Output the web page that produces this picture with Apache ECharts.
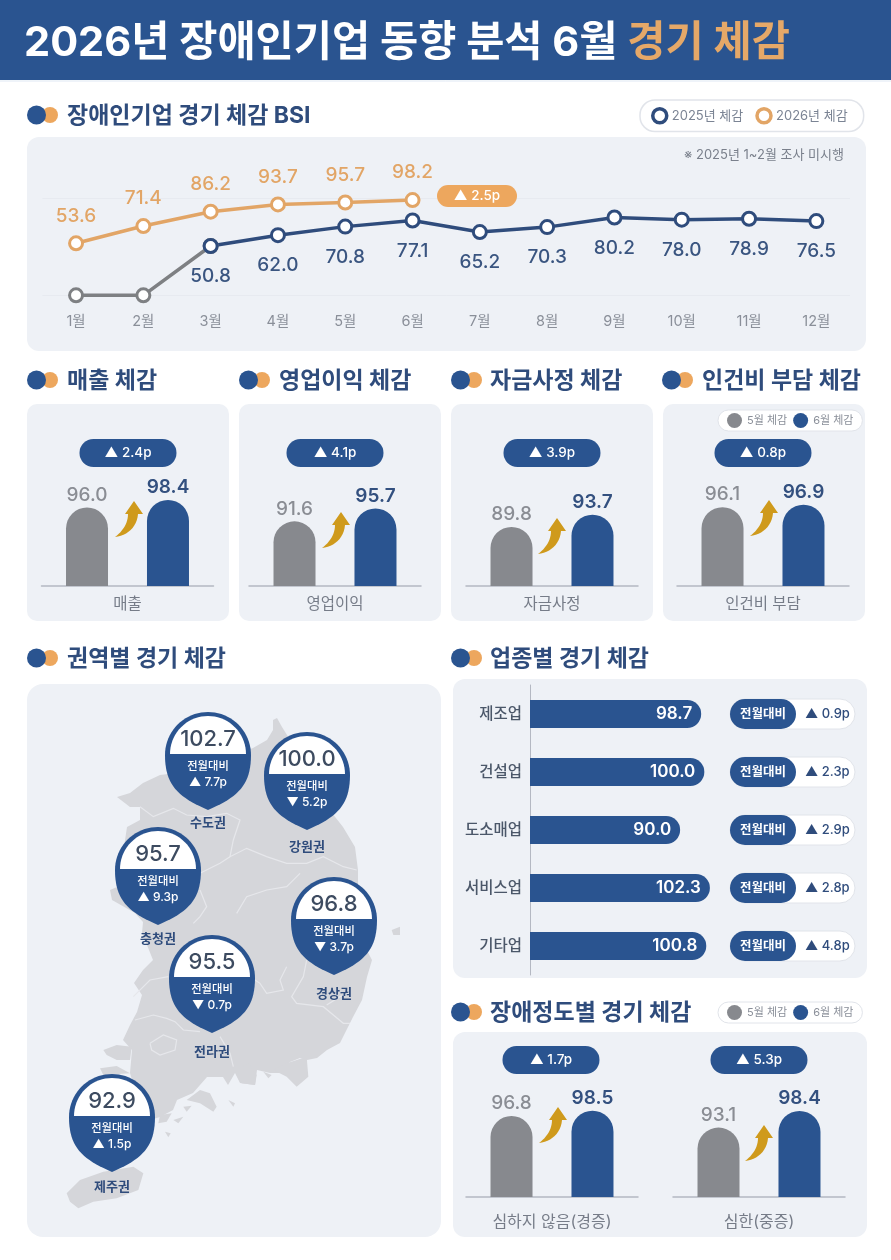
<!DOCTYPE html>
<html><head><meta charset="utf-8">
<style>html,body{margin:0;padding:0;background:#fff}#c{width:891px;height:1260px}</style>
<script src="https://cdn.jsdelivr.net/npm/echarts@6/dist/echarts.min.js"></script>
</head><body><div id="c"></div>
<script>
const FONT = "Inter,'Noto Sans CJK KR',sans-serif";
const BLUE='#2a5490', NAVY='#2f4c7c', ORANGE='#e2a566', GRAY='#87898e', PANEL='#eef1f6', LAND='#d5d6da';
// ---- data ----
const months=['1월','2월','3월','4월','5월','6월','7월','8월','9월','10월','11월','12월'];
const bsi2026=[53.6,71.4,86.2,93.7,95.7,98.2];
const bsi2025=[null,null,50.8,62.0,70.8,77.1,65.2,70.3,80.2,78.0,78.9,76.5];
const bsi2025Unsurveyed=[0,0,50.8];
const gapLabel='▲ 2.5p';
const compareNames=['매출','영업이익','자금사정','인건비 부담','심하지 않음(경증)','심한(중증)'];
const compareMay=[96.0,91.6,89.8,96.1,96.8,93.1];
const compareJune=[98.4,95.7,93.7,96.9,98.5,98.4];
const compareDelta=['▲ 2.4p','▲ 4.1p','▲ 3.9p','▲ 0.8p','▲ 1.7p','▲ 5.3p'];
const industries=['제조업','건설업','도소매업','서비스업','기타업'];
const industryValues=[98.7,100.0,90.0,102.3,100.8];
const industryDelta=['▲ 0.9p','▲ 2.3p','▲ 2.9p','▲ 2.8p','▲ 4.8p'];
const regions=['수도권','강원권','충청권','경상권','전라권','제주권'];
const regionValues=['102.7','100.0','95.7','96.8','95.5','92.9'];
const regionDelta=['▲ 7.7p','▼ 5.2p','▲ 9.3p','▼ 3.7p','▼ 0.7p','▲ 1.5p'];
// ---- layout ----
const compareCenter=[127.5,335,552,763,552,759];
const compareBase=[586,586,586,586,1197,1197];
const pillY=[453,453,453,453,1060,1060];
const pillX=[128,335,552,763,551,759];
const arrowBox=[[115,501],[322,512],[538,518],[750,500],[539,1107],[745,1125]];
const pinPos=[[208,712,823],[307,732,847],[158,827,939],[334,877,994],[212,935,1052],[112,1074,1187]];
const rowY=[714,772,830,888,946];
// map outline, traced in pixels of the page
const land=[[277,718],[282,727],[287,735],[332,813],[343,827],[355,847],[358,870],[358,893],[362,915],[364,945],[372,960],[367,977],[362,1000],[353,1017],[348,1027],[340,1043],[327,1050],[317,1058],[307,1060],[300,1058],[290,1062],[280,1073],[270,1073],[257,1070],[255,1085],[240,1083],[235,1073],[228,1085],[223,1077],[207,1077],[193,1093],[177,1100],[173,1110],[160,1117],[150,1120],[135,1090],[130,1073],[132,1050],[123,1040],[130,1025],[137,1012],[142,995],[134,983],[143,970],[153,960],[147,945],[142,933],[143,922],[135,913],[112,900],[110,890],[117,887],[122,860],[127,827],[140,820],[140,807],[130,807],[117,797],[130,793],[143,783],[160,775],[200,770],[253,748],[267,740],[273,730],[273,720]];
const zoomB=(p)=>p.map(a=>[60+a[0]/3,960+a[1]/3]);
const zoomA=(p)=>p.map(a=>[60+a[0]/3,700+a[1]/3]);
const jeju=zoomB([[20,700],[60,660],[130,635],[220,620],[250,640],[235,690],[170,715],[100,725],[55,745],[30,725]]);
const islands=[[[130,270],[170,255],[215,260],[210,300],[170,300],[140,285]],[[380,420],[420,390],[450,400],[470,440],[460,455],[420,430]],[[530,330],[565,310],[590,345],[585,375],[545,370]],[[640,330],[680,310],[740,290],[745,350],[710,380],[680,350]],[[505,420],[525,430],[520,440]],[[315,515],[332,520],[325,532]],[[340,480],[370,470],[355,490]],[[300,465],[335,460],[320,485],[295,490]],[[610,335],[635,345],[625,355]],[[370,440],[395,437],[380,455]],[[120,325],[170,318],[210,340],[130,345]],[[995,690],[1020,680],[1020,700],[1000,705]]].map(zoomB);
islands[islands.length-1]=zoomA([[995,690],[1020,680],[1020,705],[1000,705]]);
const bordersA=[[[240,320],[280,350],[340,325],[380,345],[440,350],[500,340],[540,360],[520,420],[510,470],[560,445],[620,470],[680,490],[740,490],[790,470],[850,500],[890,510]],[[420,520],[480,490],[510,470]],[[420,570],[440,620],[420,650],[400,670]],[[530,640],[560,590],[620,570],[680,560],[720,520]]].map(zoomA);
const bordersB=[[[225,180],[280,165],[320,175],[345,185],[370,210],[420,215]],[[270,250],[310,225],[350,240],[345,270],[300,285],[275,270],[270,250]],[[480,230],[510,280],[520,320]],[[740,0],[730,50],[695,110],[710,130],[790,140],[850,190],[870,190]],[[800,135],[840,110],[870,100]],[[680,20],[660,60],[670,90],[620,100],[600,70],[585,60]],[[220,110],[270,60],[325,50]]].map(zoomB);

// ---- graphic helpers ----
const g=[];
const txt=(x,y,text,size,fill,weight,align,z)=>g.push({type:'text',x,y,z:z||0,silent:true,style:{text,fontSize:size,fill,fontWeight:weight||400,fontFamily:FONT,align:align||'left',verticalAlign:'middle'}});
const box=(x,y,w,h,r,fill,stroke,z)=>g.push({type:'rect',z:z||0,silent:true,shape:{x,y,width:w,height:h,r},style:{fill,stroke:stroke||null,lineWidth:stroke?1:0}});
const dot=(x,y,r,fill)=>g.push({type:'circle',silent:true,shape:{cx:x,cy:y,r},style:{fill}});
const poly=(points,fill)=>g.push({type:'polygon',silent:true,shape:{points},style:{fill}});
const title=(dx,tx,y,text)=>{dot(dx+23,y,8,'#eda75e');dot(dx+9.5,y,9.5,BLUE);txt(tx,y+1,text,23,NAVY,700);};
const pill=(cx,cy,w,text)=>{box(cx-w/2,cy-14,w,28,14,BLUE);txt(cx,cy,text,13.5,'#fff',500,'center');};
const cubic=(a,b,c,d,n)=>{const o=[];for(let i=0;i<=n;i++){const t=i/n,u=1-t;o.push([u*u*u*a[0]+3*u*u*t*b[0]+3*u*t*t*c[0]+t*t*t*d[0],u*u*u*a[1]+3*u*u*t*b[1]+3*u*t*t*c[1]+t*t*t*d[1]]);}return o;};
const arc=(cx,cy,r,from,to,n)=>{const o=[];for(let i=0;i<=n;i++){const a=(from+(to-from)*i/n)*Math.PI/180;o.push([cx+r*Math.cos(a),cy+r*Math.sin(a)]);}return o;};

box(0,0,891,80,0,BLUE);
g.push({type:'line',silent:true,shape:{x1:0,y1:81,x2:891,y2:81},style:{stroke:'#dfe8f3',lineWidth:1}});
g.push({type:'text',x:24,y:43.5,silent:true,style:{rich:{a:{fontSize:41.5,fontWeight:700,fill:'#fff',fontFamily:FONT},b:{fontSize:41.5,fontWeight:700,fill:'#e5a868',fontFamily:FONT}},text:'{a|2026년 장애인기업 동향 분석 6월 }{b|경기 체감}',verticalAlign:'middle'}});

title(27,67,115,'장애인기업 경기 체감 BSI');
box(27,137,839,214,12,PANEL);
txt(844,155,'※ 2025년 1~2월 조사 미시행',13,'#7a808c',400,'right');
box(437,185,80,22,11,'#eda75e',null,20);txt(477,196,gapLabel,13.5,'#fff',500,'center',21);

const pX=[27,239,451,663], pDot=[27,239,451,662], pT=[67,279,490,702], pName=['매출 체감','영업이익 체감','자금사정 체감','인건비 부담 체감'];
pX.forEach((x,i)=>{title(pDot[i],pT[i],380,pName[i]);box(x,404,202,217,10,PANEL);});
title(27,67,658,'권역별 경기 체감');
title(451,490,658,'업종별 경기 체감');
title(451,490,1012,'장애정도별 경기 체감');
box(27,684,414,553,16,PANEL);
box(453,679,414,299,12,PANEL);
box(453,1032,414,205,12,PANEL);

compareDelta.forEach((t,i)=>pill(pillX[i],pillY[i],97,t));
arrowBox.forEach(b=>{
  const P=(x,y)=>[b[0]+x,b[1]+y];
  poly([P(19,0),P(28,13),P(23,13)].concat(cubic(P(23,13),P(22,26),P(12,35),P(0,36),12)).concat(cubic(P(0,36),P(8,30),P(13,22),P(13,13),12)).concat([P(10,13)]),'#cf9a1c');
});

// map
poly(land,LAND);
poly(jeju,LAND);
islands.forEach(p=>poly(p,LAND));
bordersA.concat(bordersB).forEach(p=>g.push({type:'polyline',silent:true,shape:{points:p},style:{stroke:'#e6e7eb',lineWidth:1.2,fill:null}}));
regions.forEach((name,i)=>{
  const [cx,top,ly]=pinPos[i], R=43, cy=top+R;
  txt(cx,ly,name,13,NAVY,700,'center');
  const P=(x,y)=>[cx+x,cy+y];
  const right=cubic(P(R,0),P(R,30),P(30,42),P(0,55),20), left=cubic(P(0,55),P(-30,42),P(-R,30),P(-R,0),20);
  poly(right.concat(left).concat(arc(cx,cy,R,180,360,40)),BLUE);
  poly(arc(cx,cy-1,38,180,360,36),'#fff');
  txt(cx,top+27,regionValues[i],22,'#3d4b60',500,'center');
  txt(cx,top+55,'전월대비',11.3,'#fff',500,'center');
  txt(cx,top+70,regionDelta[i],12,'#fff',500,'center');
});
// industry pills
rowY.forEach((y,i)=>{
  box(730,y-15,125,30,15,'#fff','#e1e4ea');
  box(730,y-15,66,30,15,BLUE);
  txt(763,y,'전월대비',12.5,'#fff',600,'center');
  txt(805,y,industryDelta[i],13,NAVY,500);
});

// ---- chart ----
const grid=[{left:42.4,width:807.6,top:198.3,height:97}];
const xAxis=[{gridIndex:0,type:'category',data:months,axisLine:{show:false},axisTick:{show:false},axisLabel:{color:'#8a8f99',fontSize:14.5,margin:19,fontFamily:FONT}}];
const yAxis=[{gridIndex:0,type:'value',min:0,max:100,interval:100,axisLabel:{show:false},axisLine:{show:false},axisTick:{show:false},splitLine:{lineStyle:{color:'#e7eaf0',width:1}}}];
const ring=(c,b)=>({color:'#fff',borderColor:c,borderWidth:b||3});
const series=[
 {name:'미시행',type:'line',xAxisIndex:0,yAxisIndex:0,data:bsi2025Unsurveyed,symbol:'circle',symbolSize:13,lineStyle:{color:'#7e8083',width:3.5},itemStyle:ring('#7e8083'),label:{show:false}},
 {name:'2025년 체감',type:'line',xAxisIndex:0,yAxisIndex:0,data:bsi2025,symbol:'circle',symbolSize:13,lineStyle:{color:NAVY,width:3.5},itemStyle:ring(NAVY),
  label:{show:true,position:'bottom',distance:13,color:'#3a5580',fontSize:19,fontWeight:500,fontFamily:FONT,formatter:p=>p.value.toFixed(1)}},
 {name:'2026년 체감',type:'line',xAxisIndex:0,yAxisIndex:0,data:bsi2026,symbol:'circle',symbolSize:13,lineStyle:{color:ORANGE,width:3.5},itemStyle:ring(ORANGE),
  label:{show:true,position:'top',distance:10,color:ORANGE,fontSize:19,fontWeight:500,fontFamily:FONT,formatter:p=>p.value.toFixed(1)}}
];
compareNames.forEach((n,i)=>{
  const gi=grid.length, base=compareBase[i], top=base-100;
  grid.push({left:compareCenter[i]-86,width:172,top,height:100});
  xAxis.push({gridIndex:gi,type:'category',data:[n],axisTick:{show:false},axisLine:{lineStyle:{color:'#b4b8c2',width:1.5}},axisLabel:{color:'#767c88',fontSize:i>3?16:15.5,margin:i>3?17:11,fontFamily:FONT}});
  yAxis.push({gridIndex:gi,type:'value',min:71,max:71+100/3.14,show:false,splitLine:{show:false}});
  const lab=(c,w)=>({show:true,position:'top',distance:3,color:c,fontSize:19,fontWeight:w,fontFamily:FONT,formatter:p=>p.value.toFixed(1)});
  series.push({name:'5월 체감',type:'bar',xAxisIndex:gi,yAxisIndex:gi,data:[compareMay[i]],barWidth:42,barGap:'92.8%',itemStyle:{color:GRAY,borderRadius:[21,21,0,0]},label:lab('#8a8d94',500)});
  series.push({name:'6월 체감',type:'bar',xAxisIndex:gi,yAxisIndex:gi,data:[compareJune[i]],barWidth:42,barGap:'92.8%',itemStyle:{color:BLUE,borderRadius:[21,21,0,0]},label:lab('#33507f',600)});
});
const hi=grid.length;
grid.push({left:530,width:200,top:685,height:290});
yAxis.push({gridIndex:hi,type:'category',data:industries,inverse:true,axisTick:{show:false},axisLine:{lineStyle:{color:'#b4b8c2',width:1}},axisLabel:{color:'#4b5769',fontSize:15.5,fontWeight:500,margin:8,fontFamily:FONT}});
xAxis.push({gridIndex:hi,type:'value',min:28,max:110.6,show:false,splitLine:{show:false}});
series.push({name:'업종별',type:'bar',xAxisIndex:hi,yAxisIndex:hi,data:industryValues,barWidth:28,itemStyle:{color:BLUE,borderRadius:[0,14,14,0]},
  label:{show:true,position:'insideRight',distance:9,color:'#fff',fontSize:17,fontWeight:600,fontFamily:FONT,formatter:p=>p.value.toFixed(1)}});

const smallLegend=(top)=>({data:[{name:'5월 체감',icon:'circle',itemStyle:{color:GRAY}},{name:'6월 체감',icon:'circle',itemStyle:{color:BLUE}}],left:718,top,itemWidth:15,itemHeight:15,itemGap:6,padding:[3,9,3,9],
  backgroundColor:'#fff',borderColor:'#e1e4ea',borderWidth:1,borderRadius:11,selectedMode:false,textStyle:{color:'#8a8f99',fontSize:11,fontFamily:FONT}});
const chart=echarts.init(document.getElementById('c'),null,{renderer:'canvas'});
chart.setOption({animation:false,backgroundColor:'#fff',textStyle:{fontFamily:FONT},
  legend:[
   {data:[{name:'2025년 체감',icon:'circle',itemStyle:ring(NAVY,3.5)},{name:'2026년 체감',icon:'circle',itemStyle:ring(ORANGE,3.5)}],left:640,top:100,itemWidth:14,itemHeight:14,itemGap:12,padding:[7,16,7,11],
    backgroundColor:'#fff',borderColor:'#e1e4ea',borderWidth:1.5,borderRadius:15,selectedMode:false,textStyle:{color:'#7b8494',fontSize:13,fontFamily:FONT}},
   smallLegend(410),smallLegend(1002)],
  graphic:{elements:g},grid,xAxis,yAxis,series});
</script></body></html>
